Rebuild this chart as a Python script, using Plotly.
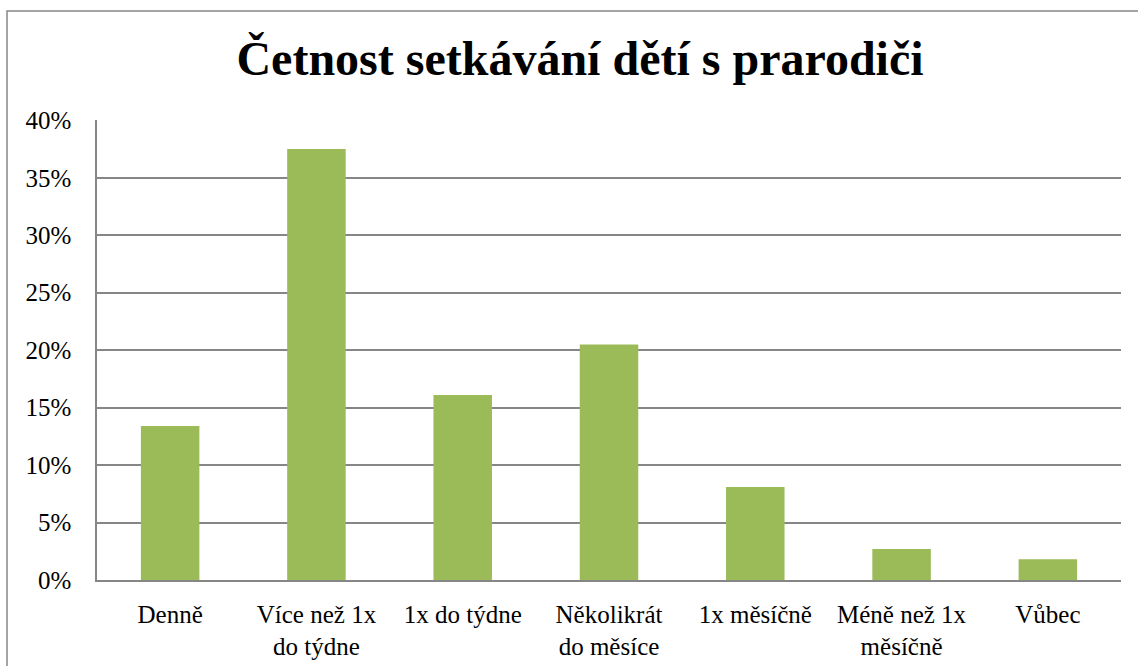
import plotly.graph_objects as go

categories = ["Denně", "Více než 1x<br>do týdne", "1x do týdne", "Několikrát<br>do měsíce",
              "1x měsíčně", "Méně než 1x<br>měsíčně", "Vůbec"]
values = [13.4, 37.5, 16.1, 20.5, 8.1, 2.7, 1.8]
y_ticks = [0, 5, 10, 15, 20, 25, 30, 35, 40]
y_ticklabels = [f"{v}%" for v in y_ticks]
title_text = "Četnost setkávání dětí s prarodiči"

W, H = 1138, 666
L, R, T, B = 97, 17, 120, 86
SERIF = "Liberation Serif"

fig = go.Figure(go.Bar(
    x=categories, y=values,
    marker=dict(color="#9BBB59", line=dict(width=0)),
    width=0.4,
))

pw = W - L - R
ph = H - T - B

fig.update_layout(
    width=W, height=H,
    margin=dict(l=L, r=R, t=T, b=B, autoexpand=False),
    paper_bgcolor="white", plot_bgcolor="white",
    font=dict(family=SERIF, size=25, color="black"),
    title=dict(text=f"<b>{title_text}</b>", x=580 / W, xanchor="center",
               y=1 - 58 / H, yanchor="middle", yref="container", xref="container",
               font=dict(size=48, family=SERIF, color="black")),
    showlegend=False,
    bargap=0.6,
    xaxis=dict(showgrid=False, showline=True, linecolor="#868686", linewidth=1.5,
               ticks="", tickfont=dict(size=25, family=SERIF, color="black"),
               ticklabelstandoff=11, fixedrange=True, automargin=False),
    yaxis=dict(range=[0, 40.03], tickvals=y_ticks, ticktext=y_ticklabels,
               showgrid=True, gridcolor="#868686", gridwidth=1.5,
               showline=True, linecolor="#868686", linewidth=1.5,
               ticks="", ticklabelstandoff=19, zeroline=False, fixedrange=True,
               automargin=False,
               tickfont=dict(size=25, family=SERIF, color="black")),
    shapes=[dict(type="rect", xref="paper", yref="paper",
                 x0=(7 - L) / pw, x1=(1150 - L) / pw,
                 y0=(H - B - 680) / ph, y1=(H - B - 11) / ph,
                 line=dict(color="#868686", width=1.5), layer="below")],
)

fig.write_html("out.html", config={"displayModeBar": False},
               post_script="document.body.style.margin='0';document.body.style.overflow='hidden';")
